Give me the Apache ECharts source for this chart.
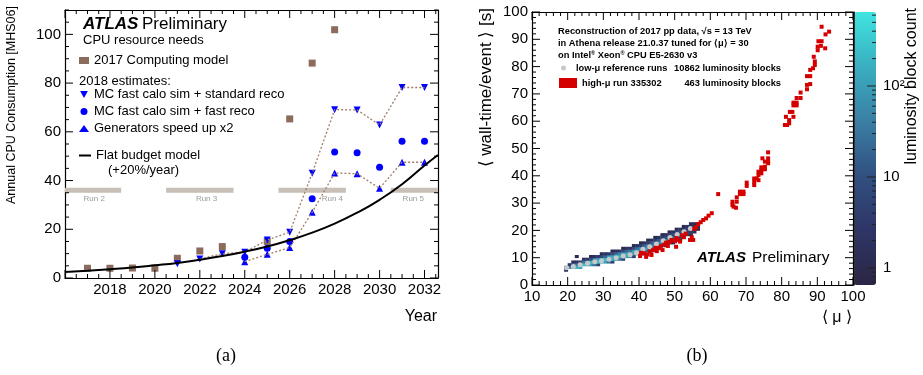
<!DOCTYPE html>
<html>
<head>
<meta charset="utf-8">
<script src="https://cdn.jsdelivr.net/npm/echarts@6/dist/echarts.min.js"></script>
<style>
html, body { margin: 0; padding: 0; background: #fff; }
#chart { width: 923px; height: 375px; }
</style>
</head>
<body>
<div id="chart"></div>
<script>
var FF = '"Liberation Sans", Arial, sans-serif';

// ---- (a) CPU resource needs ----
var cmYears = [2017, 2018, 2019, 2020, 2021, 2022, 2023, 2025, 2026, 2027, 2028];
var cmCpu = [4.0, 4.0, 4.1, 4.0, 8.1, 11.1, 12.9, 15.0, 65.3, 88.2, 101.9];

var stdYears = [2021, 2022, 2023, 2024, 2025, 2026, 2027, 2028, 2029, 2030, 2031, 2032];
var stdCpu = [5.8, 7.8, 10.0, 10.6, 15.6, 18.8, 43.0, 69.1, 69.0, 62.8, 78.2, 78.2];

var fastYears = [2024, 2025, 2026, 2027, 2028, 2029, 2030, 2031, 2032];
var fastCpu = [8.5, 12.2, 15.0, 32.5, 51.7, 51.4, 45.5, 56.1, 56.1];

var genYears = [2024, 2025, 2026, 2027, 2028, 2029, 2030, 2031, 2032];
var genCpu = [6.7, 9.7, 12.5, 27.0, 43.1, 42.8, 36.8, 47.5, 47.5];

var flatYears = [2016, 2017, 2018, 2019, 2020, 2021, 2022, 2023, 2024, 2025, 2026, 2027, 2028, 2029, 2030, 2031, 2032, 2032.6];
var flatCpu = [2.5, 3.0, 3.6, 4.3, 5.2, 6.2, 7.5, 9.0, 10.8, 12.9, 15.5, 18.6, 22.3, 26.8, 32.1, 38.5, 46.2, 50.5];

var runNames = ['Run 2', 'Run 3', 'Run 4', 'Run 5'];
var runStart = [2016, 2020.5, 2025.5, 2030.5];
var runEnd = [2018.5, 2023.5, 2028.5, 2032.6];
var runLabelX = [2017.3, 2022.3, 2027.9, 2031.5];

// ---- (b) wall-time per event vs pile-up ----
var heatMu = [19, 20, 21, 22, 23, 24, 25, 26, 27, 28, 29, 30, 31, 32, 33, 34, 35, 36, 37, 38,
              39, 40, 41, 42, 43, 44, 45, 46, 47, 48, 49, 50, 51, 52, 53, 54, 55, 56];
var heatStart = [5, 6, 6, 6, 6, 7, 7, 7, 7, 7, 8, 8, 8, 8, 9, 9, 9, 10, 10, 10,
                 11, 11, 11, 12, 12, 13, 13, 14, 14, 15, 15, 16, 16, 17, 18, 18, 19, 20];
var heatCounts = [
  [2, 8], [60, 3], [150, 20, 2], [200, 40, 2, 0, 1], [120, 200, 5],
  [250, 30, 2], [200, 80, 3], [100, 250, 10, 1], [30, 300, 40, 2], [5, 250, 100, 3],
  [200, 150, 8, 1], [100, 250, 20, 2], [30, 250, 80, 3], [5, 150, 150, 10, 1], [100, 200, 20, 2],
  [40, 200, 60, 3], [8, 150, 120, 8, 1], [100, 150, 20, 2], [60, 150, 30, 2], [5, 100, 100, 10, 1],
  [60, 100, 25, 2], [15, 80, 60, 5, 1], [2, 40, 80, 20, 2], [15, 60, 40, 4, 1], [3, 30, 50, 15, 2],
  [10, 40, 30, 4, 1], [2, 20, 40, 12, 2], [8, 30, 25, 5, 1], [2, 15, 30, 10, 2], [5, 20, 20, 4, 1],
  [1, 10, 20, 8, 2], [3, 12, 15, 5, 1], [1, 6, 12, 8, 2], [3, 8, 8, 3, 1], [4, 6, 5, 2],
  [1, 3, 5, 3, 1], [2, 3, 2, 1], [1, 2, 1]
];

var refMu = [19.7, 21.6, 23.5, 25.6, 27.6, 29.5, 31.6, 33.6, 35.6, 37.5, 39.3, 41.1, 43.0, 44.9, 46.8, 48.7, 50.7, 52.6, 54.4];
var refTime = [6.3, 6.8, 7.4, 8.0, 8.5, 8.9, 9.4, 10.0, 10.6, 11.1, 11.8, 13.1, 14.0, 15.0, 16.2, 17.4, 18.5, 19.5, 20.7];

var highMu = [40.3, 40.6, 41.4, 42.0, 42.4, 43.0, 43.5, 44.0, 44.6, 45.0, 45.6, 46.1, 46.6, 47.1, 47.6, 48.1, 48.6, 49.1, 50.4, 50.1,
              50.5, 51.0, 51.5, 52.1, 52.6, 53.1, 54.3, 54.8, 55.2, 55.5, 56.0, 56.6, 57.3, 58.0, 58.8, 59.5, 60.4,
              62.2, 66.2, 66.2, 66.5, 67.4, 67.4, 67.2, 68.3, 69.3, 68.3, 69.3, 70.2, 70.2, 72.3, 72.3, 72.3, 73.0, 73.5,
              73.5, 73.5, 74.3, 74.3, 74.3, 75.3, 75.3, 75.3, 74.6, 76.2, 76.2, 76.2, 76.2,
              80.9, 81.5, 82.1, 82.1, 83.3, 81.2, 82.3, 83.0, 83.3, 84.2, 83.3, 84.2, 84.2, 85.3, 85.3, 87.1, 87.1, 88.0,
              87.1, 88.0, 88.0, 88.8, 89.3, 89.3, 89.0, 90.1, 90.1, 91.0, 90.3, 91.2, 92.2, 92.3, 93.3, 91.2];
var highTime = [10.6, 11.8, 11.6, 10.3, 11.2, 12.3, 11.0, 12.8, 13.6, 12.4, 13.5, 14.2, 12.8, 14.8, 15.5, 14.3, 15.8, 16.5, 14.0, 16.0,
                17.2, 16.6, 15.9, 18.2, 17.5, 18.8, 16.5, 17.5, 16.5, 20.5, 21.2, 22.3, 23.0, 23.8, 24.4, 25.4, 26.3,
                33.3, 30.5, 29.3, 28.7, 32.1, 30.5, 28.3, 34.2, 34.2, 33.3, 33.3, 37.5, 36.3, 39.0, 37.8, 36.6, 39.0, 38.4,
                41.5, 40.3, 42.1, 40.9, 43.1, 43.3, 42.4, 45.2, 46.4, 46.4, 45.2, 44.6, 48.6,
                58.6, 58.6, 59.2, 60.4, 61.6, 61.6, 63.4, 63.4, 65.8, 65.8, 66.8, 66.8, 68.5, 68.5, 70.5, 71.7, 73.3, 73.6,
                76.5, 76.5, 78.8, 79.4, 80.6, 81.9, 83.6, 86.0, 87.3, 87.6, 89.3, 89.3, 86.7, 91.8, 92.8, 94.6];

var colorbarMajor = [1, 10, 100];
var colorbarMinor = [0.7, 0.8, 0.9, 2, 3, 4, 5, 6, 7, 8, 9, 20, 30, 40, 50, 60, 70, 80, 90, 200, 300, 400, 500, 600];

function pairs(xs, ys) {
    return xs.map(function (x, i) { return [x, ys[i]]; });
}

var heatData = [];
heatMu.forEach(function (mu, i) {
    heatCounts[i].forEach(function (c, j) {
        if (c > 0) {
            heatData.push([mu, heatStart[i] + j, Math.log10(c)]);
        }
    });
});

// tick marks on all four frame sides, placed through the axes
function frameTicks(ext, xMajor, xMinor, yMajor, yMinor) {
    var data = [];
    var i;
    for (i = 0; ext.x0 + i * xMinor <= ext.x1 + 1e-9; i++) {
        var xv = ext.x0 + i * xMinor;
        var isMajX = Math.abs(xv / xMajor - Math.round(xv / xMajor)) < 1e-6;
        data.push([xv, ext.y0, 0, isMajX ? 8 : 4]);
    }
    for (i = 0; ext.y0 + i * yMinor <= ext.y1 + 1e-9; i++) {
        var yv = ext.y0 + i * yMinor;
        var isMajY = Math.abs(yv / yMajor - Math.round(yv / yMajor)) < 1e-6;
        data.push([ext.x0, yv, 1, isMajY ? 8 : 4]);
    }
    return data;
}

function tickRender(ext) {
    return function (params, api) {
        var kind = api.value(2);
        var len = api.value(3);
        var a, b;
        var st = { stroke: '#000', lineWidth: 1 };
        if (kind === 0) {
            a = api.coord([api.value(0), ext.y0]);
            b = api.coord([api.value(0), ext.y1]);
            return { type: 'group', children: [
                { type: 'line', shape: { x1: a[0], y1: a[1], x2: a[0], y2: a[1] - len }, style: st },
                { type: 'line', shape: { x1: b[0], y1: b[1], x2: b[0], y2: b[1] + len }, style: st }
            ] };
        }
        a = api.coord([ext.x0, api.value(1)]);
        b = api.coord([ext.x1, api.value(1)]);
        return { type: 'group', children: [
            { type: 'line', shape: { x1: a[0], y1: a[1], x2: a[0] + len, y2: a[1] }, style: st },
            { type: 'line', shape: { x1: b[0], y1: b[1], x2: b[0] - len, y2: b[1] }, style: st }
        ] };
    };
}

var extA = { x0: 2016, x1: 2032.6, y0: 0, y1: 110 };
var extB = { x0: 10, x1: 100, y0: 0, y1: 100 };

function frameAxis(extra) {
    var base = {
        type: 'value',
        axisLine: { show: true, onZero: false, lineStyle: { color: '#000', width: 1.2 } },
        axisTick: { show: false },
        minorTick: { show: false },
        splitLine: { show: false },
        axisLabel: { show: false }
    };
    return Object.assign(base, extra);
}

var labelStyle = { show: true, fontSize: 15, color: '#000', fontFamily: FF };

function txt(x, y, text, font, extra) {
    return {
        type: 'text', x: x, y: y, z: 100,
        style: Object.assign({
            text: text, font: font, fill: '#000',
            align: 'left', textAlign: 'left',
            verticalAlign: 'middle', textVerticalAlign: 'middle'
        }, extra || {})
    };
}

var chart = echarts.init(document.getElementById('chart'));

var option = {
    animation: false,
    backgroundColor: '#fff',
    textStyle: { fontFamily: FF },
    grid: [
        { left: 65, top: 10, width: 373, height: 268 },
        { left: 532, top: 12, width: 321, height: 273 },
        { left: 854, top: 12, width: 22, height: 273 }
    ],
    xAxis: [
        frameAxis({ gridIndex: 0, position: 'bottom', min: 2016, max: 2032.6, interval: 2,
            axisLabel: Object.assign({ margin: 4, showMinLabel: false, showMaxLabel: false,
                formatter: function (v) { return String(v); } }, labelStyle) }),
        frameAxis({ gridIndex: 0, position: 'top', min: 2016, max: 2032.6, interval: 2 }),
        frameAxis({ gridIndex: 1, position: 'bottom', min: 10, max: 100, interval: 10,
            axisLabel: Object.assign({ margin: 4 }, labelStyle) }),
        frameAxis({ gridIndex: 1, position: 'top', min: 10, max: 100, interval: 10 }),
        { type: 'value', gridIndex: 2, min: 0, max: 1, show: false }
    ],
    yAxis: [
        frameAxis({ gridIndex: 0, position: 'left', min: 0, max: 110, interval: 20,
            axisLabel: Object.assign({ margin: 4, showMaxLabel: false }, labelStyle) }),
        frameAxis({ gridIndex: 0, position: 'right', min: 0, max: 110, interval: 20 }),
        frameAxis({ gridIndex: 1, position: 'left', min: 0, max: 100, interval: 10,
            axisLabel: Object.assign({ margin: 4 }, labelStyle) }),
        frameAxis({ gridIndex: 1, position: 'right', min: 0, max: 100, interval: 10 }),
        {
            type: 'log', gridIndex: 2, position: 'right', min: 0.65, max: 650, logBase: 10, z: 5,
            axisLine: { show: true, lineStyle: { color: '#333', width: 1 } },
            axisTick: { show: false },
            splitLine: { show: false },
            axisLabel: Object.assign({ margin: 7, formatter: function (v) {
                if (v === 1) return '1';
                if (v === 10) return '10';
                if (v === 100) return '10²';
                return '';
            } }, labelStyle)
        }
    ],
    visualMap: {
        type: 'continuous',
        seriesIndex: 8,
        dimension: 2,
        min: Math.log10(0.65),
        max: Math.log10(650),
        left: 854,
        top: 12,
        padding: 0,
        itemWidth: 22,
        itemHeight: 273,
        calculable: false,
        z: 0,
        inRange: { color: ['#2b2644', '#2e3566', '#305080', '#3a7fa5', '#3aaec0', '#40e4e0'] }
    },
    legend: [
        { data: ['2017 Computing model'], left: 79, top: 54, padding: 0, itemWidth: 10, itemHeight: 7,
          selectedMode: false, textStyle: { fontSize: 13, lineHeight: 13, color: '#000', fontFamily: FF } },
        { data: [
              { name: 'MC fast calo sim + standard reco', icon: 'path://M0,0L2,0L1,1.8Z' },
              'MC fast calo sim + fast reco', 'Generators speed up x2'],
          orient: 'vertical', left: 79, top: 88, padding: 0, itemGap: 4, itemWidth: 10, itemHeight: 7,
          selectedMode: false, textStyle: { fontSize: 13, lineHeight: 13, color: '#000', fontFamily: FF } },
        { data: [{ name: 'Flat budget model', icon: 'rect' }], left: 79, top: 149, padding: 0, itemWidth: 12, itemHeight: 2,
          selectedMode: false, textStyle: { fontSize: 13, lineHeight: 13, color: '#000', fontFamily: FF } },
        { data: ['low-μ reference runs'], left: 561, top: 63, padding: 0, itemWidth: 15, itemHeight: 5,
          selectedMode: false, textStyle: { fontSize: 9.3, fontWeight: 'bold', lineHeight: 10, color: '#000', fontFamily: FF } },
        { data: [{ name: 'high-μ run 335302', icon: 'rect' }], left: 559, top: 78, padding: 0, itemWidth: 18, itemHeight: 10,
          selectedMode: false, textStyle: { fontSize: 9.3, fontWeight: 'bold', lineHeight: 10, color: '#000', fontFamily: FF } }
    ],
    series: [
        {
            // run periods
            type: 'custom', xAxisIndex: 0, yAxisIndex: 0,
            data: runStart.map(function (s, i) { return [s, runEnd[i], runLabelX[i]]; }),
            renderItem: function (params, api) {
                var a = api.coord([api.value(0), 37]);
                var b = api.coord([api.value(1), 35]);
                var c = api.coord([api.value(2), 32.4]);
                return {
                    type: 'group',
                    children: [
                        { type: 'rect', shape: { x: a[0], y: a[1], width: b[0] - a[0], height: b[1] - a[1] },
                          style: { fill: '#c8bfb6' } },
                        { type: 'text', x: c[0], y: c[1],
                          style: { text: runNames[params.dataIndex], fill: '#9a9a9a', font: '8px ' + FF,
                                   align: 'center', textAlign: 'center', verticalAlign: 'middle', textVerticalAlign: 'middle' } }
                    ]
                };
            }
        },
        {
            type: 'line', xAxisIndex: 0, yAxisIndex: 0, symbol: 'none', silent: true,
            data: pairs(stdYears.slice(1), stdCpu.slice(1)),
            lineStyle: { color: '#a07c68', width: 1.3, type: [2, 2] }
        },
        {
            type: 'line', xAxisIndex: 0, yAxisIndex: 0, symbol: 'none', silent: true,
            data: pairs(genYears, genCpu),
            lineStyle: { color: '#a07c68', width: 1.3, type: [2, 2] }
        },
        {
            name: 'Flat budget model', type: 'line', xAxisIndex: 0, yAxisIndex: 0,
            symbol: 'none', smooth: true, data: pairs(flatYears, flatCpu),
            itemStyle: { color: '#000' },
            lineStyle: { color: '#000', width: 2 }
        },
        {
            name: '2017 Computing model', type: 'scatter', xAxisIndex: 0, yAxisIndex: 0,
            symbol: 'rect', symbolSize: 7, data: pairs(cmYears, cmCpu),
            itemStyle: { color: '#8b6c5c', opacity: 1 }
        },
        {
            name: 'MC fast calo sim + standard reco', type: 'scatter', xAxisIndex: 0, yAxisIndex: 0,
            symbol: 'triangle', symbolRotate: 180, symbolSize: 7, data: pairs(stdYears, stdCpu),
            itemStyle: { color: '#0000ff', opacity: 1 }
        },
        {
            name: 'MC fast calo sim + fast reco', type: 'scatter', xAxisIndex: 0, yAxisIndex: 0,
            symbol: 'circle', symbolSize: 7, data: pairs(fastYears, fastCpu),
            itemStyle: { color: '#0000ff', opacity: 1 }
        },
        {
            name: 'Generators speed up x2', type: 'scatter', xAxisIndex: 0, yAxisIndex: 0,
            symbol: 'triangle', symbolSize: 7, data: pairs(genYears, genCpu),
            itemStyle: { color: '#0000ff', opacity: 1 }
        },
        {
            // low-mu luminosity block histogram
            type: 'custom', xAxisIndex: 2, yAxisIndex: 2,
            data: heatData,
            encode: { x: 0, y: 1 },
            renderItem: function (params, api) {
                var p = api.coord([api.value(0), api.value(1) + 1]);
                var s = api.size([1, 1]);
                return {
                    type: 'rect',
                    shape: { x: p[0], y: p[1], width: s[0] + 0.4, height: s[1] + 0.4 },
                    style: { fill: api.visual('color') }
                };
            }
        },
        {
            name: 'low-μ reference runs', type: 'scatter', xAxisIndex: 2, yAxisIndex: 2,
            symbolSize: 5, data: pairs(refMu, refTime),
            itemStyle: { color: '#c8c8c8', opacity: 1 }
        },
        {
            name: 'high-μ run 335302', type: 'scatter', xAxisIndex: 2, yAxisIndex: 2,
            symbol: 'rect', symbolSize: 4, data: pairs(highMu, highTime),
            itemStyle: { color: '#d40000', opacity: 1 }
        },
        {
            // ticks of the colour scale
            type: 'custom', xAxisIndex: 4, yAxisIndex: 4, z: 6, silent: true,
            data: colorbarMajor.map(function (v) { return [1, v, 9]; })
                .concat(colorbarMinor.map(function (v) { return [1, v, 4]; })),
            renderItem: function (params, api) {
                var p = api.coord([1, api.value(1)]);
                return { type: 'line', shape: { x1: p[0] - api.value(2), y1: p[1], x2: p[0], y2: p[1] },
                         style: { stroke: '#222', lineWidth: 1 } };
            }
        },
        {
            type: 'custom', xAxisIndex: 0, yAxisIndex: 0, z: 6, silent: true,
            data: frameTicks(extA, 2, 0.5, 20, 5),
            renderItem: tickRender(extA)
        },
        {
            type: 'custom', xAxisIndex: 2, yAxisIndex: 2, z: 6, silent: true,
            data: frameTicks(extB, 10, 2, 10, 2),
            renderItem: tickRender(extB)
        }
    ],
    graphic: [
        txt(83, 24, 'ATLAS', 'italic bold 17px ' + FF),
        txt(142, 24, 'Preliminary', '17px ' + FF),
        txt(83, 40, 'CPU resource needs', '13px ' + FF),
        txt(79, 81, '2018 estimates:', '13px ' + FF),
        txt(108, 170, '(+20%/year)', '13px ' + FF),
        Object.assign(txt(12, 6, 'Annual CPU Consumption [MHS06]', '12.5px ' + FF,
            { align: 'right', textAlign: 'right' }), { rotation: Math.PI / 2 }),
        txt(437, 317, 'Year', '16px ' + FF, { align: 'right', textAlign: 'right' }),
        txt(226, 356, '(a)', '18px "Liberation Serif", serif', { align: 'center', textAlign: 'center' }),

        txt(558, 31, 'Reconstruction of 2017 pp data, √s = 13 TeV', 'bold 9.3px ' + FF),
        txt(558, 43, 'in Athena release 21.0.37 tuned for ⟨μ⟩ = 30', 'bold 9.3px ' + FF),
        {
            type: 'text', x: 558, y: 55, z: 100,
            style: {
                text: 'on Intel{sup|®} Xeon{sup|®} CPU E5-2630 v3',
                font: 'bold 9.3px ' + FF, fill: '#000',
                verticalAlign: 'middle', textVerticalAlign: 'middle',
                rich: { sup: { fontSize: 5.5, fontWeight: 'bold', verticalAlign: 'top', fontFamily: FF } }
            }
        },
        txt(781, 68, '10862 luminosity blocks', 'bold 9.3px ' + FF, { align: 'right', textAlign: 'right' }),
        txt(781, 83, '463 luminosity blocks', 'bold 9.3px ' + FF, { align: 'right', textAlign: 'right' }),
        txt(697, 258, 'ATLAS', 'italic bold 15px ' + FF),
        txt(752, 258, 'Preliminary', '15.5px ' + FF),
        Object.assign(txt(486, 8, '⟨ wall-time/event ⟩ [s]', '17px ' + FF,
            { align: 'right', textAlign: 'right' }), { rotation: Math.PI / 2 }),
        txt(852, 318, '⟨ μ ⟩', '16px ' + FF, { align: 'right', textAlign: 'right' }),
        Object.assign(txt(912, 8, 'luminosity block count', '16px ' + FF,
            { align: 'right', textAlign: 'right' }), { rotation: Math.PI / 2 }),
        txt(697, 356, '(b)', '18px "Liberation Serif", serif', { align: 'center', textAlign: 'center' })
    ]
};

chart.setOption(option);
</script>
</body>
</html>
